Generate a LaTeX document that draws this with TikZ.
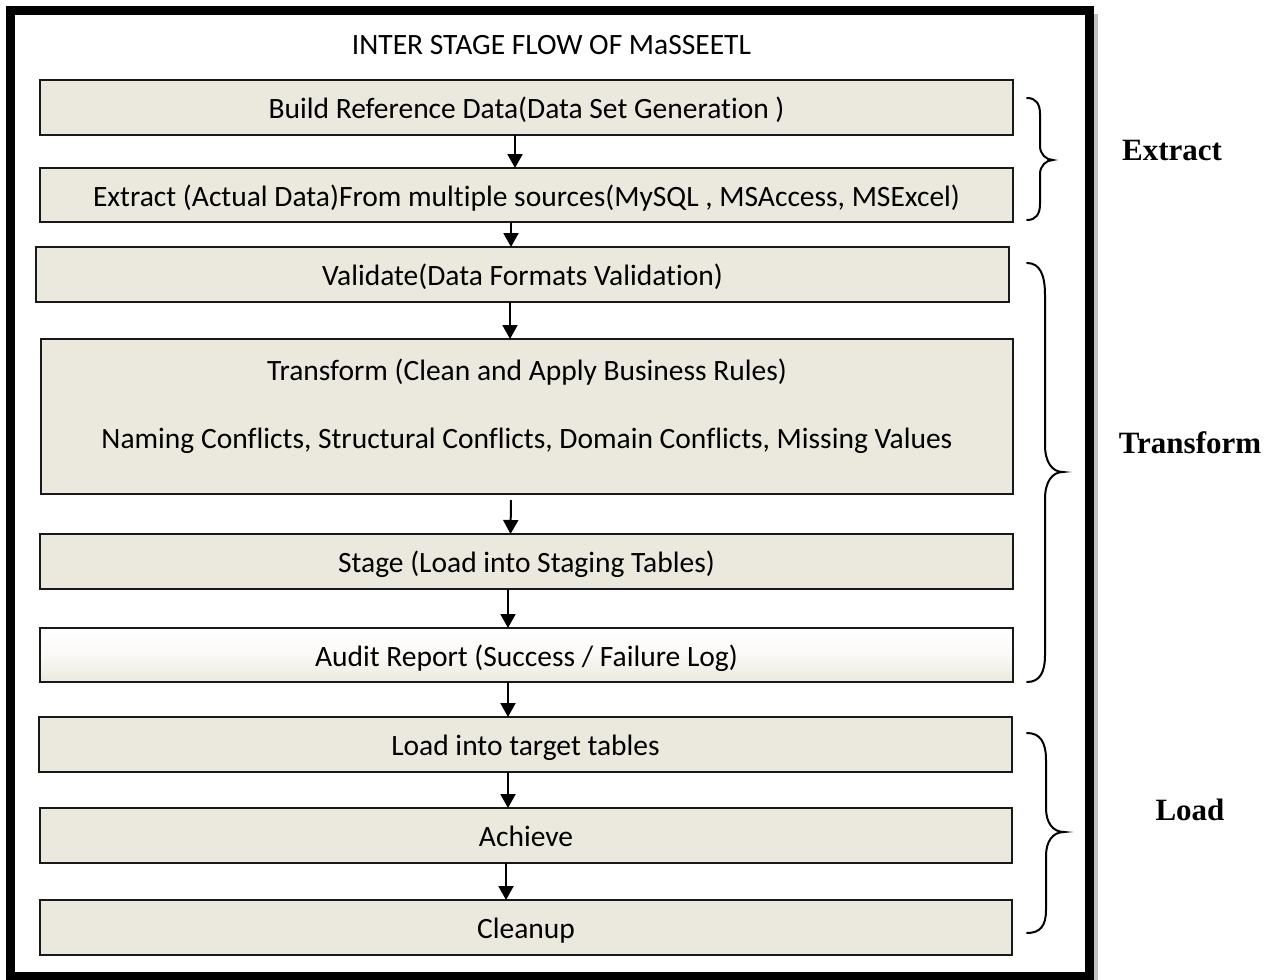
\documentclass[tikz,border=0pt]{standalone}
\usepackage{fontspec}
\setmainfont[Ligatures=NoCommon]{Carlito}
\newfontfamily\lblfont{Liberation Serif}
\usetikzlibrary{arrows.meta}
\definecolor{boxbg}{HTML}{EBE9DE}
\definecolor{boxlight}{HTML}{FAF9F6}
\tikzset{
  stagebox/.style={draw=black!90, line width=2pt, left color=boxbg, middle color=boxlight, right color=boxbg,
    inner sep=0pt, outer sep=0pt, text height=24pt, text depth=2pt, font=\fontsize{29.5pt}{33pt}\selectfont},
  auditbox/.style={stagebox, top color=white, bottom color=boxbg, middle color=boxlight},
  flowarrow/.style={line width=2pt, -{Triangle[width=15pt,length=14pt]}},
  bracepath/.style={line width=2pt, line cap=round},
  phaselabel/.style={font=\lblfont\bfseries\fontsize{31pt}{34pt}\selectfont},
  plaintext/.style={font=\fontsize{29.5pt}{33pt}\selectfont, inner sep=0pt}
}
\begin{document}
\begin{tikzpicture}[x=1pt,y=-1pt]
\useasboundingbox (0,0) rectangle (1278,980);
% frame shadow and frame
\draw[line width=4pt, black!25] (1095.5,14) -- (1095.5,980);
\draw[line width=9pt] (10,10) rectangle (1089,976);
% title
\node[plaintext] (title) at (551.5,45) {INTER STAGE FLOW OF MaSSEETL};
% boxes
\node[stagebox, minimum width=973pt, minimum height=55pt] (b1) at (526.5,107.5) {Build Reference Data(Data Set Generation )};
\node[stagebox, minimum width=973pt, minimum height=54pt] (b2) at (526.5,195) {Extract (Actual Data)From multiple sources(MySQL , MSAccess, MSExcel)};
\node[stagebox, minimum width=973pt, minimum height=55pt] (b3) at (522.5,274.5) {Validate(Data Formats Validation)};
\node[stagebox, minimum width=972pt, minimum height=155pt] (b4) at (527,416.5) {};
\node[plaintext] (t4a) at (527,372.5) {Transform (Clean and Apply Business Rules)};
\node[plaintext] (t4b) at (527,440.5) {Naming Conflicts, Structural Conflicts, Domain Conflicts, Missing Values};
\node[stagebox, minimum width=973pt, minimum height=55pt] (b5) at (526.5,561.5) {Stage (Load into Staging Tables)};
\node[auditbox, minimum width=973pt, minimum height=54pt] (b6) at (526.5,655) {Audit Report (Success / Failure Log)};
\node[stagebox, minimum width=973pt, minimum height=55pt] (b7) at (525.5,744.5) {Load into target tables};
\node[stagebox, minimum width=972pt, minimum height=55pt] (b8) at (526,835.5) {Achieve};
\node[stagebox, minimum width=972pt, minimum height=55pt] (b9) at (526,927.5) {Cleanup};
% arrows
\draw[flowarrow] ([xshift=-11.5pt]b1.south) -- ([xshift=-11.5pt]b2.north);
\draw[flowarrow] ([xshift=-15.5pt]b2.south) -- ([xshift=-11.5pt]b3.north);
\draw[flowarrow] ([xshift=-12.5pt]b3.south) -- ([xshift=-17pt]b4.north);
\draw[flowarrow] ([xshift=-16pt,yshift=-6pt]b4.south) -- ([xshift=-16pt]b5.north);
\draw[flowarrow] ([xshift=-18.5pt]b5.south) -- ([xshift=-18.5pt]b6.north);
\draw[flowarrow] ([xshift=-18.5pt]b6.south) -- ([xshift=-17.5pt]b7.north);
\draw[flowarrow] ([xshift=-17.5pt]b7.south) -- ([xshift=-18pt]b8.north);
\draw[flowarrow] ([xshift=-20pt]b8.south) -- ([xshift=-20pt]b9.north);
% braces
\draw[bracepath] (1027,98) .. controls (1036,98) and (1040,104) .. (1040,114) -- (1040,146)
  .. controls (1040,154) and (1046,160) .. (1053,160)
  .. controls (1046,160) and (1040,166) .. (1040,174) -- (1040,204)
  .. controls (1040,214) and (1036,220) .. (1027,220);
\draw[bracepath] (1027,263) .. controls (1040,263) and (1045,275) .. (1045,295) -- (1045,445)
  .. controls (1045,462) and (1052,472) .. (1063,472)
  .. controls (1052,472) and (1045,482) .. (1045,499) -- (1045,655)
  .. controls (1045,672) and (1040,682) .. (1027,682);
\draw[bracepath] (1027,733) .. controls (1040,733) and (1046,742) .. (1046,760) -- (1046,808)
  .. controls (1046,823) and (1053,832) .. (1064,832)
  .. controls (1053,832) and (1046,841) .. (1046,856) -- (1046,910)
  .. controls (1046,926) and (1040,933) .. (1027,933);
% phase labels
\node[phaselabel] (lext) at (1172,150) {Extract};
\node[phaselabel] (ltr) at (1190,443) {Transform};
\node[phaselabel] (lload) at (1190,810) {Load};
\end{tikzpicture}
\end{document}
